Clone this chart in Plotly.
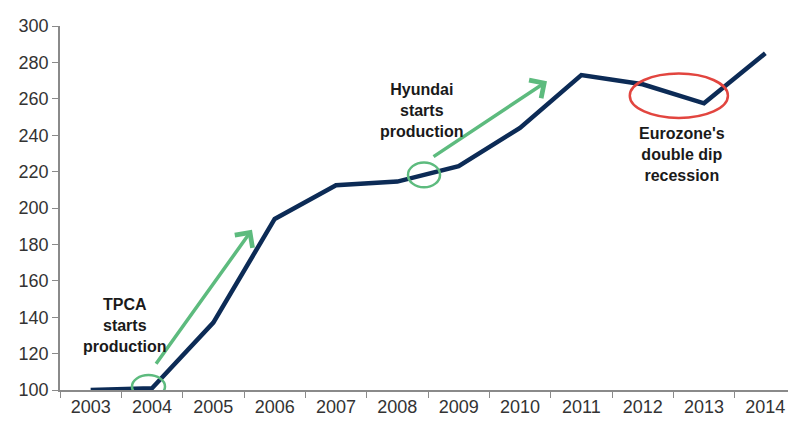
import plotly.graph_objects as go

years = ["2003", "2004", "2005", "2006", "2007", "2008", "2009", "2010", "2011", "2012", "2013", "2014"]
values = [100, 101, 137, 194, 212.5, 214.5, 223, 244, 273, 268, 257.5, 285]
y_ticks = [100, 120, 140, 160, 180, 200, 220, 240, 260, 280, 300]

NAVY = "#0c2b56"
GREEN = "#5dbb7e"
RED = "#e2453f"
FONT = "Arial, Liberation Sans, sans-serif"

fig = go.Figure()
fig.add_trace(go.Scatter(x=years, y=values, mode="lines",
                         line=dict(color=NAVY, width=4.5), showlegend=False,
                         hoverinfo="skip"))

# ellipses
fig.add_shape(type="circle", xref="x", yref="y", x0=0.674, x1=1.212, y0=95.7, y1=108.2,
              line=dict(color=GREEN, width=2.5))
fig.add_shape(type="circle", xref="x", yref="y", x0=5.174, x1=5.696, y0=211.4, y1=225,
              line=dict(color=GREEN, width=2.5))
fig.add_shape(type="circle", xref="x", yref="y", x0=8.79, x1=10.39, y0=249.5, y1=273.9,
              line=dict(color=RED, width=2.5))

# arrows
for (tx, ty, hx, hy) in [(1.049, 113.6, 2.63, 188), (5.566, 227.7, 7.44, 269.6)]:
    fig.add_annotation(x=hx, y=hy, ax=tx, ay=ty, xref="x", yref="y", axref="x", ayref="y",
                       text="", showarrow=True, arrowhead=4, arrowsize=1.2, arrowwidth=3.5,
                       arrowcolor=GREEN)

tfont = dict(family=FONT, size=16, color="#1a1a1a")
fig.add_annotation(x=0.56, y=135.3, xref="x", yref="y", text="<b>TPCA<br>starts<br>production</b>",
                   showarrow=False, font=tfont, align="center")
fig.add_annotation(x=5.40, y=253.8, xref="x", yref="y", text="<b>Hyundai<br>starts<br>production</b>",
                   showarrow=False, font=tfont, align="center")
fig.add_annotation(x=9.64, y=229.3, xref="x", yref="y",
                   text="<b>Eurozone's<br>double dip<br>recession</b>",
                   showarrow=False, font=tfont, align="center")

fig.update_layout(
    width=796, height=421,
    margin=dict(l=52, r=8, t=14, b=39),
    paper_bgcolor="white", plot_bgcolor="white",
    font=dict(family=FONT, size=18, color="#333333"),
    xaxis=dict(type="category", tickson="boundaries", ticks="outside", ticklen=6,
               tickcolor="#8a8a8a", showline=True, linecolor="#8a8a8a", linewidth=1.5,
               showgrid=False, zeroline=False, range=[-0.5, 11.5], fixedrange=True),
    yaxis=dict(range=[100, 300], tickvals=y_ticks, ticks="outside", ticklen=6,
               tickcolor="#8a8a8a", showline=True, linecolor="#8a8a8a", linewidth=1.5,
               showgrid=False, zeroline=False, fixedrange=True),
)

fig.write_html("out.html")
